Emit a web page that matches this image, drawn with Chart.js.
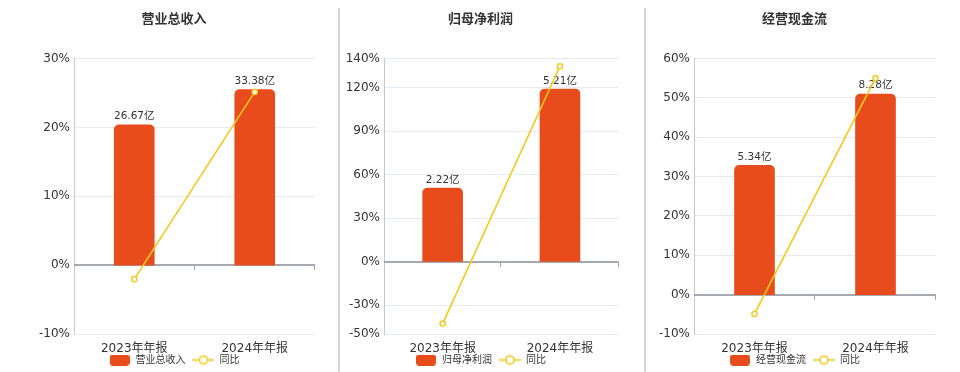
<!DOCTYPE html>
<html><head><meta charset="utf-8">
<script src="https://cdn.jsdelivr.net/npm/chart.js@4.4.0/dist/chart.umd.min.js"></script>
<style>
html,body{margin:0;padding:0;width:960px;height:372px;overflow:hidden;background:#fff;}
canvas{position:absolute;top:0;}
.sep{position:absolute;top:8px;height:364px;width:2px;background:#d4d4d4;}
</style></head><body>
<canvas id="c1" width="348" height="372" style="left:0px"></canvas>
<canvas id="c2" width="287" height="372" style="left:337px"></canvas>
<canvas id="c3" width="297" height="372" style="left:646px"></canvas>
<div class="sep" style="left:338px"></div>
<div class="sep" style="left:644px"></div>
<script>
// ---- data ----
const categories = ['2023年年报', '2024年年报'];
const titles = ['营业总收入', '归母净利润', '经营现金流'];
const revenueValues = [26.67, 33.38];
const revenueYoY = [-2.03, 25.16];
const profitValues = [2.22, 5.21];
const profitYoY = [-42.8, 134.7];
const cashValues = [5.34, 8.28];
const cashYoY = [-4.9, 55.06];
const revenueTicks = [-10, 0, 10, 20, 30];
const profitTicks = [-50, -30, 0, 30, 60, 90, 120, 140];
const cashTicks = [-10, 0, 10, 20, 30, 40, 50, 60];
const yoyLabel = '同比';

// ---- style ----
const FONT = '"DejaVu Sans", "Noto Sans CJK SC", sans-serif';
const BAR_COLOR = '#E84C1D';
const LINE_COLOR = '#F3C91A';
const TEXT = '#333333';

function barIcon() {
  const c = document.createElement('canvas'); c.width = 20; c.height = 11;
  const g = c.getContext('2d'); g.fillStyle = BAR_COLOR;
  g.beginPath(); g.roundRect(0, 0, 20, 11, 3); g.fill(); return c;
}
function lineIcon() {
  const c = document.createElement('canvas'); c.width = 22; c.height = 11;
  const g = c.getContext('2d'); g.strokeStyle = LINE_COLOR; g.lineWidth = 1.6;
  g.beginPath(); g.moveTo(0, 5.5); g.lineTo(22, 5.5); g.stroke();
  g.beginPath(); g.arc(11, 5.5, 4, 0, Math.PI * 2); g.fillStyle = '#fff'; g.fill(); g.stroke();
  return c;
}

const zeroLinePlugin = {
  id: 'zeroLine',
  beforeDatasetsDraw(chart) {
    const {ctx, chartArea, scales: {x, y}} = chart;
    const y0 = Math.round(y.getPixelForValue(0));
    ctx.save();
    ctx.strokeStyle = '#8a8d98'; ctx.lineWidth = 1.6;
    ctx.beginPath(); ctx.moveTo(chartArea.left, y0); ctx.lineTo(chartArea.right, y0); ctx.stroke();
    ctx.lineWidth = 1; ctx.strokeStyle = '#a0a3ad';
    const n = chart.data.labels.length;
    const step = (chartArea.right - chartArea.left) / n;
    for (let i = 0; i < n; i++) {
      const bx = Math.round(x.getPixelForValue(i) + step / 2) - 0.5;
      ctx.beginPath(); ctx.moveTo(bx, y0); ctx.lineTo(bx, y0 + 5); ctx.stroke();
    }
    ctx.restore();
  }
};
const barLabelPlugin = {
  id: 'barLabels',
  afterDatasetDraw(chart, args) {
    if (args.index !== 0) return;
    const {ctx} = chart;
    const ds = chart.data.datasets[0];
    ctx.save();
    ctx.font = '10.5px ' + FONT; ctx.fillStyle = TEXT;
    ctx.textAlign = 'center'; ctx.textBaseline = 'bottom';
    args.meta.data.forEach((el, i) => {
      ctx.fillText(ds.data[i].toFixed(2) + '亿', el.x, el.y - 3);
    });
    ctx.restore();
  }
};

function makeChart(id, title, values, yoy, ticks, yAxisWidth, y1Width) {
  const yMin = ticks[0], yMax = ticks[ticks.length - 1];
  const barMax = Math.max(...values) / 0.85;
  const barMin = barMax * yMin / yMax;
  return new Chart(document.getElementById(id), {
    type: 'bar',
    data: {
      labels: categories,
      datasets: [
        { type: 'bar', label: title, data: values, yAxisID: 'y1', order: 2,
          backgroundColor: BAR_COLOR, barThickness: 40,
          borderRadius: {topLeft: 5, topRight: 5, bottomLeft: 0, bottomRight: 0}, borderSkipped: 'bottom' },
        { type: 'line', label: yoyLabel, data: yoy, yAxisID: 'y', order: 1,
          borderColor: LINE_COLOR, borderWidth: 1.6, tension: 0,
          pointRadius: 2.6, pointBackgroundColor: '#fff', pointBorderColor: LINE_COLOR, pointBorderWidth: 1.4 }
      ]
    },
    options: {
      responsive: false, animation: false, devicePixelRatio: 1,
      layout: { padding: 0 },
      plugins: {
        tooltip: { enabled: false },
        title: { display: true, text: title, color: TEXT,
          font: { family: FONT, size: 13, weight: 'bold' }, padding: { top: 11.5, bottom: 31.5 } },
        legend: {
          position: 'bottom', maxHeight: 24,
          labels: {
            usePointStyle: true, pointStyleWidth: 22, padding: 7, color: TEXT,
            font: { family: FONT, size: 10 },
            sort: (a, b) => a.datasetIndex - b.datasetIndex,
            generateLabels(chart) {
              const items = Chart.defaults.plugins.legend.labels.generateLabels(chart);
              items.forEach(it => { it.pointStyle = it.datasetIndex === 0 ? barIcon() : lineIcon(); });
              return items;
            }
          }
        }
      },
      scales: {
        x: {
          grid: { display: false, drawTicks: false }, border: { display: false },
          ticks: { color: TEXT, font: { family: FONT, size: 12 }, padding: -22.5, mirror: true },
          afterFit(s) { s.height = 14; }
        },
        y: {
          position: 'left', min: yMin, max: yMax,
          afterBuildTicks(s) { s.ticks = ticks.map(v => ({ value: v })); },
          grid: { drawTicks: false, color: ctx => ctx.tick && ctx.tick.value === 0 ? 'rgba(0,0,0,0)' : '#e6eaf3', lineWidth: 1 },
          border: { display: true, color: '#c6c9d3', width: 1 },
          ticks: { color: TEXT, font: { family: FONT, size: 12 }, padding: 4, callback: v => v + '%' },
          afterFit(s) { s.width = yAxisWidth; }
        },
        y1: {
          position: 'right', min: barMin, max: barMax, display: true,
          grid: { display: false, drawTicks: false }, border: { display: false },
          ticks: { display: false },
          afterFit(s) { s.width = y1Width; }
        }
      }
    },
    plugins: [zeroLinePlugin, barLabelPlugin]
  });
}

makeChart('c1', titles[0], revenueValues, revenueYoY, revenueTicks, 74, 33);
makeChart('c2', titles[1], profitValues, profitYoY, profitTicks, 47, 3);
makeChart('c3', titles[2], cashValues, cashYoY, cashTicks, 48, 7);
</script>
</body></html>
